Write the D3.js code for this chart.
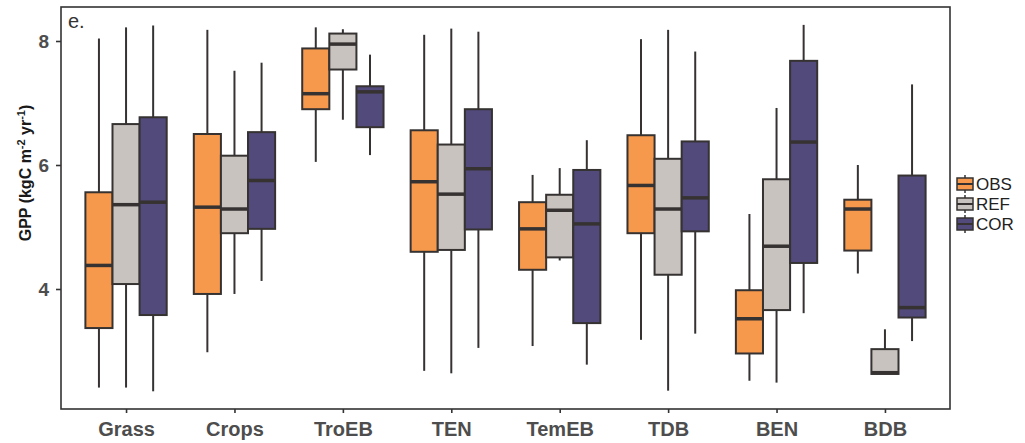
<!DOCTYPE html>
<html>
<head>
<meta charset="utf-8">
<script src="https://cdn.jsdelivr.net/npm/d3@7"></script>
<style>
  html, body { margin: 0; padding: 0; background: #fff; }
  svg { display: block; }
</style>
</head>
<body>
<svg id="chart" width="1025" height="443"></svg>
<script>
// Plant functional types along the x axis
const categories = ["Grass", "Crops", "TroEB", "TEN", "TemEB", "TDB", "BEN", "BDB"];
const seriesNames = ["OBS", "REF", "COR"];
const yTicks = [4, 6, 8];

// Box statistics per type: [lower whisker, Q1, median, Q3, upper whisker]
const obsStats = [
  [2.41, 3.37, 4.38, 5.56, 8.04],
  [2.98, 3.92, 5.32, 6.50, 8.18],
  [6.05, 6.90, 7.15, 7.88, 8.22],
  [2.68, 4.60, 5.73, 6.56, 8.10],
  [3.08, 4.31, 4.97, 5.40, 5.84],
  [3.18, 4.90, 5.67, 6.48, 8.03],
  [2.52, 2.96, 3.52, 3.98, 5.21],
  [4.25, 4.62, 5.29, 5.44, 6.00]
];
const refStats = [
  [2.41, 4.08, 5.36, 6.66, 8.22],
  [3.92, 4.90, 5.29, 6.15, 7.52],
  [6.73, 7.54, 7.95, 8.12, 8.19],
  [2.64, 4.63, 5.53, 6.33, 8.20],
  [4.46, 4.51, 5.27, 5.52, 5.95],
  [2.36, 4.23, 5.29, 6.10, 8.18],
  [2.49, 3.66, 4.69, 5.77, 6.92],
  [2.63, 2.63, 2.65, 3.03, 3.35]
];
const corStats = [
  [2.35, 3.58, 5.40, 6.77, 8.25],
  [4.13, 4.97, 5.75, 6.53, 7.65],
  [6.16, 6.61, 7.18, 7.27, 7.78],
  [3.05, 4.96, 5.94, 6.90, 8.15],
  [2.78, 3.45, 5.05, 5.92, 6.40],
  [3.28, 4.93, 5.47, 6.38, 7.83],
  [3.61, 4.42, 6.37, 7.68, 8.26],
  [3.16, 3.54, 3.70, 5.83, 7.30]
];
const seriesStats = [obsStats, refStats, corStats];
const fills = ["#F7994C", "#C8C3BF", "#524A7B"];

const ink = "#363232";
const textGrey = "#4D4D4D";
const fontFamily = "'Liberation Sans', Arial, sans-serif";

const svg = d3.select("#chart");
const panel = { left: 61, right: 950, top: 7, bottom: 409 };

const x = d3.scalePoint()
  .domain(categories)
  .range([panel.left, panel.right])
  .padding(0.6);

const y = d3.scaleLinear()
  .domain([4 - 120 / 62, 8 + 34 / 62])
  .range([panel.bottom, panel.top]);

const boxW = x.step() * 0.75 / seriesNames.length;

// Boxes, one group per series, dodged around each category
seriesNames.forEach((name, si) => {
  const g = svg.append("g").attr("class", "series-" + name);
  const offset = (si - 1) * boxW;
  const rows = seriesStats[si].map((s, i) => ({ cat: categories[i], s }));

  const grp = g.selectAll("g.box").data(rows).join("g").attr("class", "box");

  // whiskers
  grp.append("line")
    .attr("x1", d => x(d.cat) + offset).attr("x2", d => x(d.cat) + offset)
    .attr("y1", d => y(d.s[4])).attr("y2", d => y(d.s[3]))
    .attr("stroke", ink).attr("stroke-width", 2);
  grp.append("line")
    .attr("x1", d => x(d.cat) + offset).attr("x2", d => x(d.cat) + offset)
    .attr("y1", d => y(d.s[1])).attr("y2", d => y(d.s[0]))
    .attr("stroke", ink).attr("stroke-width", 2);

  // box body
  grp.append("rect")
    .attr("x", d => x(d.cat) + offset - boxW / 2)
    .attr("width", boxW)
    .attr("y", d => y(d.s[3]))
    .attr("height", d => y(d.s[1]) - y(d.s[3]))
    .attr("fill", fills[si])
    .attr("stroke", ink).attr("stroke-width", 2);

  // median
  grp.append("line")
    .attr("x1", d => x(d.cat) + offset - boxW / 2)
    .attr("x2", d => x(d.cat) + offset + boxW / 2)
    .attr("y1", d => y(d.s[2])).attr("y2", d => y(d.s[2]))
    .attr("stroke", ink).attr("stroke-width", 3.5);
});

// Panel border
svg.append("rect")
  .attr("x", panel.left).attr("y", panel.top)
  .attr("width", panel.right - panel.left)
  .attr("height", panel.bottom - panel.top)
  .attr("fill", "none").attr("stroke", "#333").attr("stroke-width", 1.6);

// Axes
const yAxis = svg.append("g")
  .attr("transform", `translate(${panel.left},0)`)
  .call(d3.axisLeft(y).tickValues(yTicks).tickSize(5).tickPadding(7).tickFormat(d3.format("d")));
yAxis.select(".domain").remove();
yAxis.selectAll(".tick line").attr("stroke", "#333").attr("stroke-width", 1.6);
yAxis.selectAll(".tick text")
  .attr("fill", textGrey)
  .style("font-family", fontFamily)
  .style("font-size", "19px").style("font-weight", "bold");

const xAxis = svg.append("g")
  .attr("transform", `translate(0,${panel.bottom})`)
  .call(d3.axisBottom(x).tickSize(4).tickPadding(9));
xAxis.select(".domain").remove();
xAxis.selectAll(".tick line").attr("stroke", "#333").attr("stroke-width", 1.6);
xAxis.selectAll(".tick text")
  .attr("fill", textGrey)
  .style("font-family", fontFamily)
  .style("font-size", "20px").style("font-weight", "bold");

// Y axis title with superscripts
const yTitle = svg.append("text")
  .attr("transform", "translate(31,173) rotate(-90)")
  .attr("text-anchor", "middle")
  .attr("fill", "#1a1a1a")
  .style("font-family", fontFamily)
  .style("font-size", "16px").style("font-weight", "bold");
yTitle.append("tspan").text("GPP (kgC m");
yTitle.append("tspan").attr("dy", -6).style("font-size", "11px").text("-2");
yTitle.append("tspan").attr("dy", 6).text(" yr");
yTitle.append("tspan").attr("dy", -6).style("font-size", "11px").text("-1");
yTitle.append("tspan").attr("dy", 6).text(")");

// Panel tag
svg.append("text")
  .attr("x", 68).attr("y", 28)
  .attr("fill", "#333")
  .style("font-family", fontFamily)
  .style("font-size", "20px")
  .text("e.");

// Legend
const legend = svg.append("g").attr("transform", "translate(957,0)");
const legendY = [184, 204, 224];
seriesNames.forEach((name, si) => {
  const cy = legendY[si];
  const item = legend.append("g");
  item.append("line").attr("x1", 8).attr("x2", 8).attr("y1", cy - 9).attr("y2", cy + 9)
    .attr("stroke", ink).attr("stroke-width", 1.5);
  item.append("rect").attr("x", 0).attr("y", cy - 6).attr("width", 16).attr("height", 12)
    .attr("fill", fills[si]).attr("stroke", ink).attr("stroke-width", 1.5);
  item.append("line").attr("x1", 0).attr("x2", 16).attr("y1", cy).attr("y2", cy)
    .attr("stroke", ink).attr("stroke-width", 2);
  item.append("text").attr("x", 19).attr("y", cy).attr("dy", "0.36em")
    .attr("fill", "#222")
    .style("font-family", fontFamily)
    .style("font-size", "17px")
    .text(name);
});
</script>
</body>
</html>
